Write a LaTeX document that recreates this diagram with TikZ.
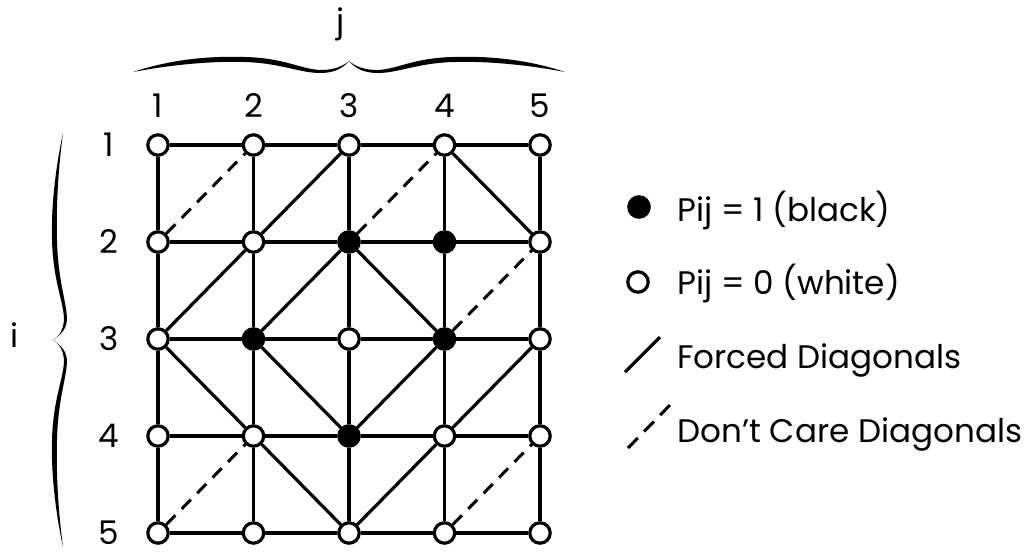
\documentclass[tikz,border=0pt]{standalone}
\usepackage{fontspec}
\setmainfont{Poppins}
\usetikzlibrary{positioning}

\begin{document}
\begin{tikzpicture}[x=0.5pt,y=-0.5pt,font=\fontsize{16.3}{19}\selectfont,
  vtx/.style={circle,draw,fill=white,line width=1.6pt,minimum size=10.2pt,inner sep=0pt},
  blk/.style={vtx,fill=black},
  edge/.style={line width=1.6pt},
  dcare/.style={line width=1.5pt,dash pattern=on 6.5pt off 4.5pt},
  lbl/.style={inner sep=0pt}]
  \useasboundingbox (0,0) rectangle (1034,559);
  % pixel lattice
  \foreach \r in {1,...,5}
    \foreach \c in {1,...,5} {
      \pgfmathtruncatemacro\rc{10*\r+\c}
      \pgfmathtruncatemacro\isblk{(\rc==23)||(\rc==24)||(\rc==32)||(\rc==34)||(\rc==43)}
      \ifnum\isblk=1
        \node[blk] (n\rc) at ({158+95.5*(\c-1)},{145+97*(\r-1)}) {};
      \else
        \node[vtx] (n\rc) at ({158+95.5*(\c-1)},{145+97*(\r-1)}) {};
      \fi
    }
  \foreach \ii in {1,...,5}
    \foreach \jj in {1,...,4} {
      \pgfmathtruncatemacro\kk{\jj+1}
      \draw[edge] (n\ii\jj) -- (n\ii\kk);
      \draw[edge] (n\jj\ii) -- (n\kk\ii);
    }
  % forced and don't care diagonals
  \foreach \p/\q in {22/13,14/25,31/22,32/23,23/34,31/42,32/43,43/34,44/35,42/53,53/44}
    \draw[edge] (n\p) -- (n\q);
  \foreach \p/\q in {21/12,23/14,34/25,51/42,54/45}
    \draw[dcare] (n\p) -- (n\q);
  % indices
  \foreach \c in {1,...,5}
    \node[lbl,anchor=base] (col\c) at ({158+95.5*(\c-1)},117) {\c};
  \foreach \r in {1,...,5}
    \node[lbl,anchor=base] (row\r) at (109,{156+97*(\r-1)}) {\r};
  \node[lbl] (jlbl) at (341,24) {j};
  \node[lbl] (ilbl) at (15,335) {i};
  % braces
  \foreach \s in {1,-1}
    \fill[shift={(349,0)},xscale=\s] (-216,72) .. controls (-174,58) and (-134,56) .. (-104,57)
      .. controls (-64,58) and (-49,69) .. (-29,70) .. controls (-14,70) and (-6,66) .. (0,61)
      .. controls (-6,68) and (-14,73) .. (-29,73) .. controls (-49,73) and (-69,63) .. (-104,62)
      .. controls (-134,61) and (-174,64) .. (-216,72) -- cycle;
  \foreach \s in {1,-1}
    \fill[shift={(0,340)},yscale=\s] (63,-207) .. controls (55,-170) and (51,-130) .. (52,-100)
      .. controls (53,-60) and (63,-40) .. (64,-22) .. controls (64,-12) and (60,-4) .. (53,0)
      .. controls (62,-6) and (67,-12) .. (67,-22) .. controls (66,-40) and (58,-60) .. (57,-100)
      .. controls (56,-130) and (58,-170) .. (63,-207) -- cycle;
  % key
  \node[blk] (keyblk) at (639,207) {};
  \node[vtx] (keywht) at (638,282) {};
  \coordinate (fcA) at (625,372);
  \coordinate (fcB) at (660,337);
  \coordinate (dcA) at (628,448);
  \coordinate (dcB) at (670,405);
  \draw[edge] (fcA) -- (fcB);
  \draw[dcare,dash pattern=on 7pt off 4.5pt] (dcA) -- (dcB);
  \node[lbl,anchor=base west] (keyt1) at (677,221) {Pij = 1 (black)};
  \node[lbl,anchor=base west] (keyt2) at (677,294) {Pij = 0 (white)};
  \node[lbl,anchor=base west] (keyt3) at (677,368) {Forced Diagonals};
  \node[lbl,anchor=base west] (keyt4) at (677,442) {Don't Care Diagonals};
\end{tikzpicture}
\end{document}
